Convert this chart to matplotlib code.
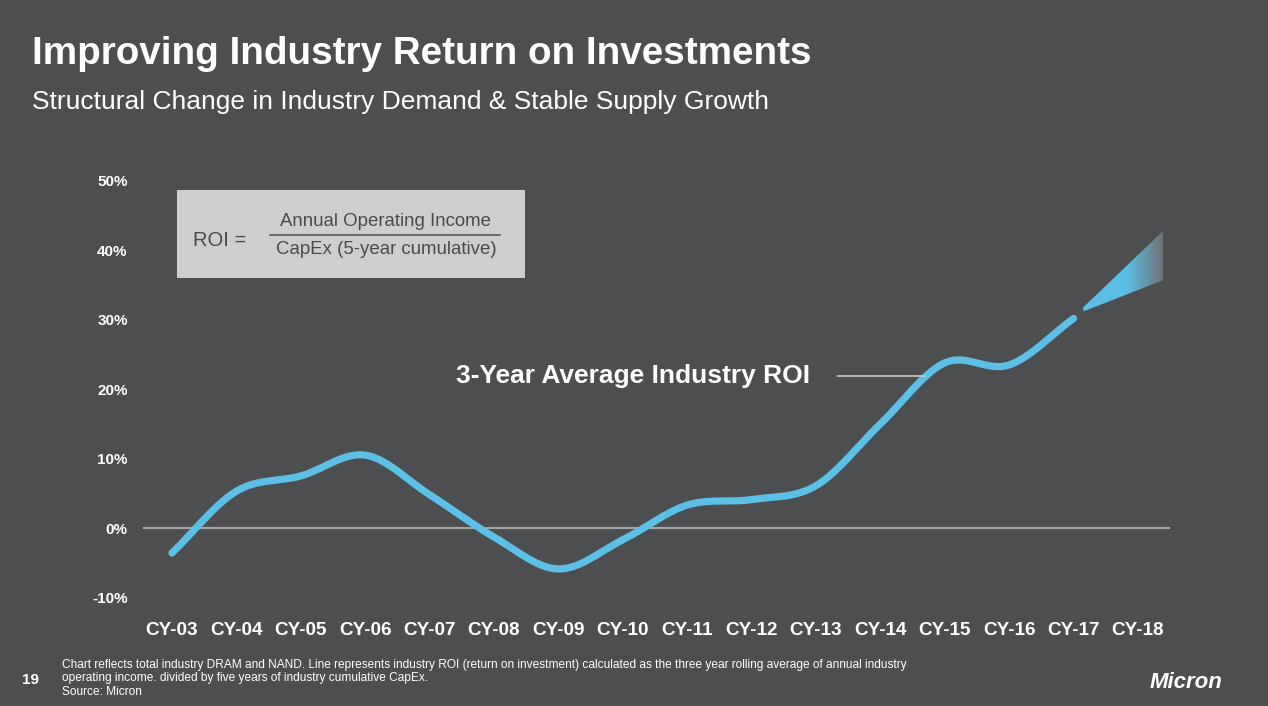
import numpy as np
import matplotlib
matplotlib.use("Agg")
import matplotlib.pyplot as plt
from matplotlib.patches import Polygon, Rectangle
from matplotlib.colors import LinearSegmentedColormap

plt.rcParams['font.family'] = ['Liberation Sans', 'DejaVu Sans']

# ---------------- data ----------------
years = ['CY-03', 'CY-04', 'CY-05', 'CY-06', 'CY-07', 'CY-08', 'CY-09', 'CY-10',
         'CY-11', 'CY-12', 'CY-13', 'CY-14', 'CY-15', 'CY-16', 'CY-17', 'CY-18']
roi = [-3.6, 5.3, 7.5, 10.5, 4.8, -1.3, -5.9, -1.7, 3.3, 4.1, 6.1, 15.0, 23.8, 23.5, 30.2]
yticks = [-10, 0, 10, 20, 30, 40, 50]
ytick_labels = ['-10%', '0%', '10%', '20%', '30%', '40%', '50%']
# projection cone (CY-17 -> CY-18)
cone_x = [14.15, 15.39]
cone_top = [31.8, 42.8]
cone_bottom = [31.2, 35.7]

title = "Improving Industry Return on Investments"
subtitle = "Structural Change in Industry Demand & Stable Supply Growth"
series_label = "3-Year Average Industry ROI"
footer = ("Chart reflects total industry DRAM and NAND. Line represents industry ROI (return on investment) "
          "calculated as the three year rolling average of annual industry\n"
          "operating income. divided by five years of industry cumulative CapEx.\n"
          "Source: Micron")

BG = '#4d4e50'
BLUE = '#5bbfe6'
WHITE = '#ffffff'


def hermite(xs, ys, n=40):
    xs = np.asarray(xs, float)
    ys = np.asarray(ys, float)
    m = np.zeros_like(ys)
    m[1:-1] = (ys[2:] - ys[:-2]) / (xs[2:] - xs[:-2])
    m[0] = ys[1] - ys[0]
    m[-1] = ys[-1] - ys[-2]
    ox, oy = [], []
    for i in range(len(xs) - 1):
        h = xs[i + 1] - xs[i]
        t = np.linspace(0, 1, n, endpoint=False)
        h00 = 2 * t**3 - 3 * t**2 + 1
        h10 = t**3 - 2 * t**2 + t
        h01 = -2 * t**3 + 3 * t**2
        h11 = t**3 - t**2
        ox.append(xs[i] + t * h)
        oy.append(h00 * ys[i] + h10 * h * m[i] + h01 * ys[i + 1] + h11 * h * m[i + 1])
    ox.append([xs[-1]])
    oy.append([ys[-1]])
    return np.concatenate(ox), np.concatenate(oy)


W, H = 1268, 706
fig = plt.figure(figsize=(W / 100, H / 100), dpi=100, facecolor=BG)

# axes placement in pixels
x0_px, x_step = 172, 64.4
ax_left_px, ax_right_px = 143, 1170
y0_px, y_step = 528, 6.94  # px per 1%
ylo, yhi = -12, 52
ax_top_px = y0_px - yhi * y_step
ax_bot_px = y0_px - ylo * y_step
ax = fig.add_axes([ax_left_px / W, 1 - ax_bot_px / H,
                   (ax_right_px - ax_left_px) / W, (ax_bot_px - ax_top_px) / H])
ax.set_facecolor(BG)
for s in ax.spines.values():
    s.set_visible(False)

idx = np.arange(len(years))
ax.set_xticks(idx)
ax.set_xticklabels(years, fontsize=13.6, fontweight='bold', color=WHITE)
ax.set_yticks(yticks)
ax.set_yticklabels(ytick_labels, fontsize=11, fontweight='bold', color=WHITE)
ax.tick_params(axis='both', length=0)
ax.tick_params(axis='y', pad=11)
ax.tick_params(axis='x', pad=7.5)

ax.axhline(0, color='#b9babb', lw=1.2, zorder=1)

sx, sy = hermite(idx[:len(roi)], roi)
ax.plot(sx, sy, color=BLUE, lw=5.2, solid_capstyle='round', zorder=3)

# cone with gradient
poly_pts = [(cone_x[0], cone_top[0]), (cone_x[1], cone_top[1]),
            (cone_x[1], cone_bottom[1]), (cone_x[0], cone_bottom[0])]
cone = Polygon(poly_pts, closed=True, facecolor='none', edgecolor='none')
ax.add_patch(cone)
cmap = LinearSegmentedColormap.from_list('cone', [(0, BLUE), (0.55, BLUE), (1, '#6f7275')])
grad = np.linspace(0, 1, 256).reshape(1, -1)
im = ax.imshow(grad, cmap=cmap, aspect='auto', interpolation='bilinear',
               extent=[cone_x[0], cone_x[1], min(cone_bottom), max(cone_top)], zorder=3)
im.set_clip_path(cone)
ax.set_xlim((ax_left_px - x0_px) / x_step, (ax_right_px - x0_px) / x_step)
ax.set_ylim(ylo, yhi)

# series label + leader
ax.annotate(series_label, xy=(11.7, 21.9), xytext=(9.9, 21.9),
            fontsize=19, fontweight='bold', color=WHITE, ha='right', va='center',
            arrowprops=dict(arrowstyle='-', color='#c8c8c8', lw=1.2,
                            shrinkA=18, shrinkB=0))

# ---- ROI formula box (figure pixel coords) ----
def fx(px):
    return px / W


def fy(py):
    return 1 - py / H


box = Rectangle((fx(177), fy(278)), fx(525) - fx(177), fy(190) - fy(278),
                transform=fig.transFigure, facecolor='#cdcecf', edgecolor='none', zorder=5)
fig.patches.append(box)
fig.text(fx(193), fy(240), "ROI =", fontsize=14.5, color='#4a4a4c', ha='left', va='center', zorder=6)
fig.lines.append(plt.Line2D([fx(270), fx(500)], [fy(235), fy(235)], transform=fig.transFigure,
                            color='#5a5a5c', lw=1.2, zorder=6))
fig.text(fx(386), fy(221), "Annual Operating Income", fontsize=13.4, color='#4a4a4c',
         ha='center', va='center', zorder=6)
fig.text(fx(386), fy(250), "CapEx (5-year cumulative)", fontsize=13.4, color='#4a4a4c',
         ha='center', va='center', zorder=6)

# titles
fig.text(fx(32), fy(54), title, fontsize=27.8, fontweight='bold', color=WHITE, ha='left', va='center')
fig.text(fx(32), fy(102), subtitle, fontsize=19, color=WHITE, ha='left', va='center')

# footer
fig.text(fx(22), fy(680), "19", fontsize=11, fontweight='bold', color=WHITE, ha='left', va='center')
fig.text(fx(62), fy(659), footer, fontsize=8.6, color=WHITE, ha='left', va='top', linespacing=1.15)
fig.text(fx(1186), fy(682), "Micron", fontsize=16, fontweight='bold', color=WHITE,
         ha='center', va='center', style='italic')

fig.savefig('out.png', dpi=100, facecolor=BG)
